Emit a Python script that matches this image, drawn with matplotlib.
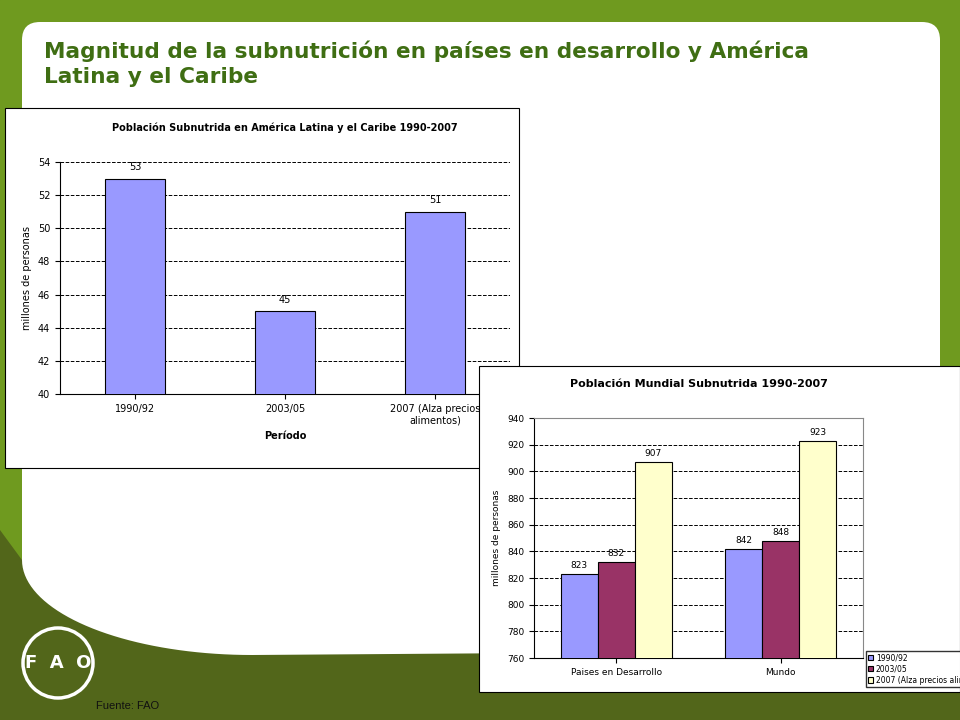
import matplotlib.pyplot as plt
from matplotlib.patches import FancyBboxPatch, Rectangle, Polygon, Circle
import numpy as np

# chart 1: America Latina y el Caribe
periodos = ['1990/92', '2003/05', '2007 (Alza precios\nalimentos)']
alc_valores = [53, 45, 51]

# chart 2: mundo
regiones = ['Paises en Desarrollo', 'Mundo']
series = ['1990/92', '2003/05', '2007 (Alza precios alimentos)']
v_1990 = [823, 842]
v_2003 = [832, 848]
v_2007 = [907, 923]
colores = ['#9999ff', '#993366', '#ffffcc']

W, H = 960, 720
fig = plt.figure(figsize=(9.6, 7.2), dpi=100, facecolor='#6b8e23')

def fx(px):
    return px / W

def fy(py):
    return 1 - py / H

# background: white panel and dark green bottom wave
bg = fig.add_axes([0, 0, 1, 1])
bg.set_zorder(-10)
bg.set_xlim(0, W)
bg.set_ylim(H, 0)
bg.axis('off')
bg.add_patch(Rectangle((0, 0), W, H, color='#6f9a1f', zorder=0))
bg.add_patch(FancyBboxPatch((34, 34), 894, 640, boxstyle='round,pad=12,rounding_size=18',
                            fc='white', ec='none', zorder=1))
t = np.linspace(0, np.pi / 2, 40)
curve_x = 22 + 230 * (1 - np.cos(t))
curve_y = 560 + 95 * np.sin(t)
pts = [(0, 530), (22, 560)] + list(zip(curve_x, curve_y)) + [(W, 650), (W, H), (0, H)]
bg.add_patch(Polygon(pts, closed=True, fc='#52661a', ec='none', zorder=2))
# simple FAO roundel
bg.add_patch(Circle((58, 663), 35, fc='none', ec='white', lw=2.5, zorder=3))
bg.text(58, 663, 'F  A  O', color='white', ha='center', va='center',
        fontsize=13, fontweight='bold', zorder=4)
bg.text(96, 706, 'Fuente: FAO', fontsize=8, color='#111111', va='center', zorder=4,
        family='Liberation Sans')
bg.text(44, 64, 'Magnitud de la subnutrición en países en desarrollo y América\nLatina y el Caribe',
        fontsize=15.6, fontweight='bold', color='#3f6e13', va='center', linespacing=1.3,
        zorder=4, family='DejaVu Sans')

# chart 1 frame
fig.add_artist(Rectangle((fx(5), fy(468)), fx(514), 360 / H, transform=fig.transFigure,
                         fc='white', ec='black', lw=0.8, zorder=-5))
ax1 = fig.add_axes([fx(60), fy(394), fx(450), 232 / H])
ax1.set_zorder(-4)
x1 = np.arange(len(periodos))
ax1.bar(x1, alc_valores, width=0.4, color=colores[0], edgecolor='black', lw=0.8, zorder=3)
for xi, v in zip(x1, alc_valores):
    ax1.text(xi, v + 0.4, str(v), ha='center', va='bottom', fontsize=7)
ax1.set_ylim(40, 54)
ax1.set_yticks(range(40, 55, 2))
ax1.set_xlim(-0.5, 2.5)
ax1.set_xticks(x1)
ax1.set_xticklabels(periodos, fontsize=7)
ax1.tick_params(axis='y', labelsize=7)
ax1.grid(axis='y', ls='--', color='black', lw=0.7, zorder=0)
ax1.set_ylabel('millones de personas', fontsize=7)
ax1.set_xlabel('Período', fontsize=7, fontweight='bold')
ax1.set_title('Población Subnutrida en América Latina y el Caribe 1990-2007',
              fontsize=7, fontweight='bold', pad=22)
for s in ['top', 'right']:
    ax1.spines[s].set_visible(False)

# chart 2 frame
fig.add_artist(Rectangle((fx(479), fy(692)), fx(481), 326 / H, transform=fig.transFigure,
                         fc='white', ec='black', lw=0.8, zorder=-3))
ax2 = fig.add_axes([fx(534), fy(658), fx(329), 240 / H])
ax2.set_zorder(-2)
x2 = np.arange(len(regiones))
bw = 0.225
for i, (vals, c, lab) in enumerate(zip([v_1990, v_2003, v_2007], colores, series)):
    pos = x2 + (i - 1) * bw
    ax2.bar(pos, vals, width=bw, color=c, edgecolor='black', lw=0.8, label=lab, zorder=3)
    for p, v in zip(pos, vals):
        ax2.text(p, v + 3, str(v), ha='center', va='bottom', fontsize=6.5)
ax2.set_ylim(760, 940)
ax2.set_yticks(range(760, 941, 20))
ax2.set_xlim(-0.5, 1.5)
ax2.set_xticks(x2)
ax2.set_xticklabels(regiones, fontsize=6.5)
ax2.tick_params(axis='y', labelsize=6.5)
ax2.grid(axis='y', ls='--', color='black', lw=0.7, zorder=0)
ax2.set_ylabel('millones de personas', fontsize=6.5)
ax2.set_title('Población Mundial Subnutrida 1990-2007', fontsize=8, fontweight='bold', pad=22)
ax2.spines['top'].set_color('#888888')
ax2.spines['right'].set_color('#888888')
ax2.legend(loc='upper left', bbox_to_anchor=(fx(862), fy(647)), bbox_transform=fig.transFigure,
           fontsize=5.5, frameon=True, fancybox=False, edgecolor='black',
           handlelength=0.7, handleheight=0.7, borderpad=0.3, labelspacing=0.3,
           handletextpad=0.3)

fig.savefig('out.png', dpi=100, facecolor=fig.get_facecolor())
